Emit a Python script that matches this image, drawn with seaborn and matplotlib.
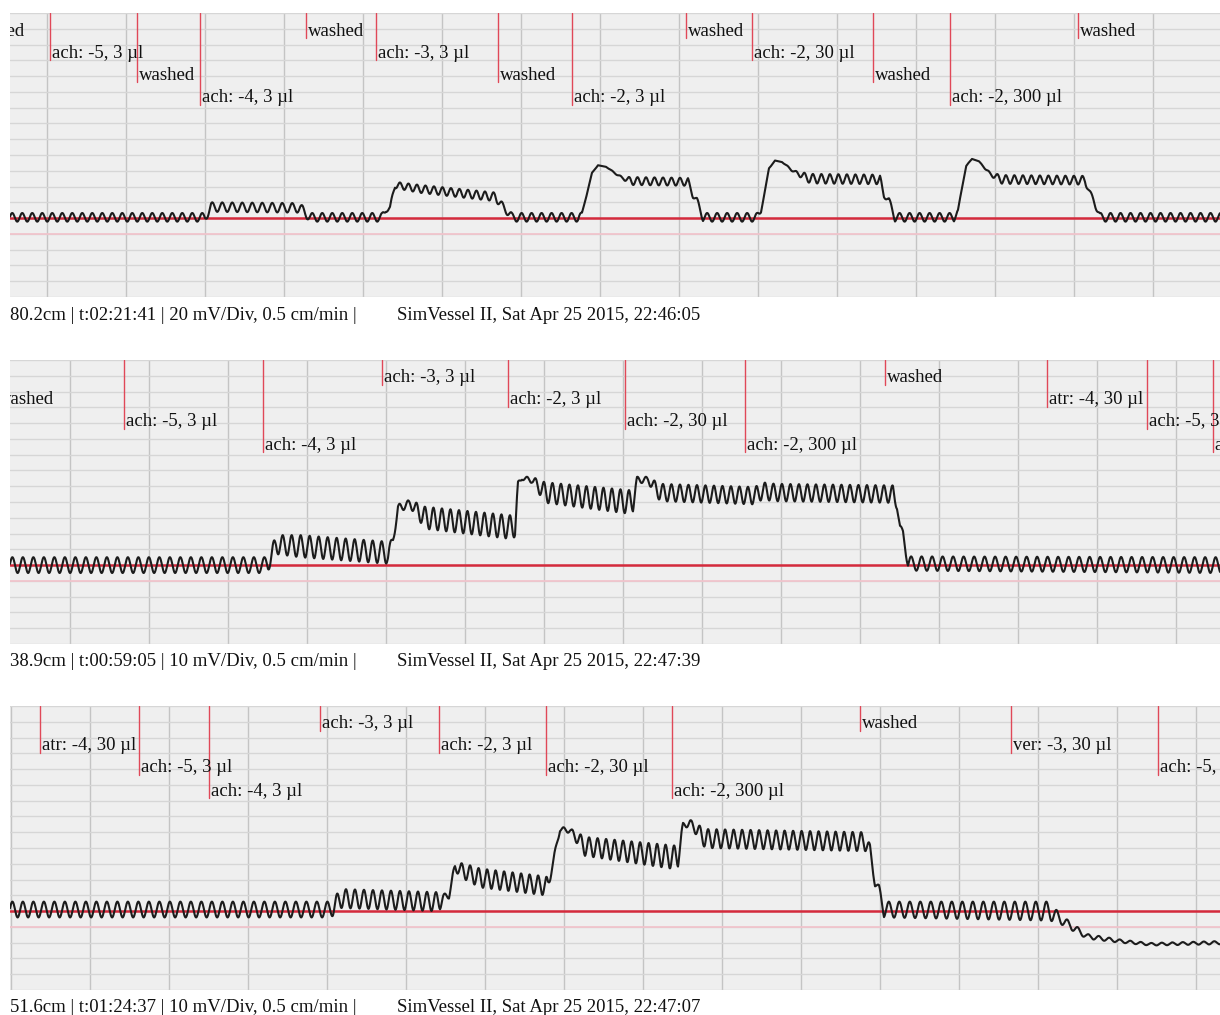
import numpy as np
import pandas as pd
import matplotlib
matplotlib.use('Agg')
import matplotlib.pyplot as plt
import seaborn as sns

W, H = 1220, 1015

# trace knots: x (screen px), level (mV above baseline),
# oscillation half-amplitude (mV), oscillation period (px)
p1_x = [10, 205, 211, 300, 310, 382, 386, 390, 395, 420, 495, 503, 512, 578, 582, 592,
        598, 606, 622, 632, 688, 693, 697, 703, 757, 761, 769, 775, 782, 795, 810, 880,
        884, 889, 895, 954, 958, 966, 972, 979, 990, 1002, 1085, 1089, 1093, 1100, 1220]
p1_mv = [1, 1, 14, 13, 1, 1, 10, 13, 42, 37, 27, 15, 1, 1, 6, 57,
         67, 65, 51, 47, 46, 28, 23, 1, 1, 8, 63, 73, 71, 58, 50, 49,
         28, 23, 1, 1, 10, 66, 75, 72, 56, 49, 48, 35, 25, 1, 1]
p1_amp = [5.5, 5.5, 6, 6, 5.5, 5.5, 2.5, 2.5, 4, 5, 5.5, 4, 5.5, 5.5, 1, 0.5,
          0, 0, 1.5, 5, 5, 2.5, 2.5, 5.5, 5.5, 1, 0.5, 0, 0, 2, 6, 6,
          2.5, 2.5, 5.5, 5.5, 1, 0.5, 0, 0, 2, 5.5, 5.5, 2.5, 2.5, 5.5, 5.5]
p1_per = [10, 10, 10, 10, 10, 10, 9, 9, 8.5, 8.5, 8.5, 9, 10, 10, 10, 10,
          10, 10, 8.5, 8.5, 8.5, 9, 9, 10, 10, 10, 10, 10, 10, 8.5, 8.5, 8.5,
          9, 9, 10, 10, 10, 10, 10, 10, 8.5, 8.5, 8.5, 9, 9, 10, 10]

p2_x = [10, 265, 268, 276, 300, 385, 388, 393, 398, 410, 425, 512, 515, 518, 522, 532,
        545, 630, 633, 637, 648, 660, 755, 762, 775, 893, 897, 900, 903, 908, 1220]
p2_mv = [0, 0, 1, 13, 12, 8, 6, 16, 36, 39, 30, 24, 24, 51, 55, 54,
         46, 40, 40, 54, 54, 46, 44, 47, 46, 45, 38, 24, 21, 1, 0]
p2_amp = [5, 5, 5, 6, 7, 7, 5, 3, 2.5, 2.5, 7, 7.5, 6, 2, 1, 2,
          6.5, 7.5, 6, 2, 2, 5.5, 5.5, 5.5, 5.5, 5.5, 2.5, 1.5, 1.5, 4.5, 5]
p2_per = [10.5, 10.5, 9, 9, 9, 9, 9, 9, 8.5, 8.5, 8.5, 8.5, 8.5, 8.5, 8.5, 8.5,
          8.5, 8.5, 8.5, 8.5, 8.5, 8.5, 8.5, 8.5, 8.5, 8.5, 9, 9, 9, 10.5, 10.5]

p3_x = [10, 330, 333, 340, 438, 440, 444, 449, 455, 465, 480, 546, 548, 552, 560, 570,
        585, 676, 678, 683, 690, 705, 866, 870, 875, 879, 884, 1050, 1060, 1087, 1120,
        1150, 1220]
p3_mv = [1, 1, 2, 8, 6, 6, 9, 10, 28, 25, 21, 16, 16, 28, 52, 51,
         41, 34, 34, 54, 56, 46, 44, 39, 17, 15, 1, 0, -5, -16, -19,
         -21, -20]
p3_amp = [5, 5, 5, 6, 6, 5, 2, 2, 3, 5, 6, 6, 5, 2, 1.5, 1.5,
          6, 7.5, 6, 2, 2, 6, 6, 3, 1.5, 1.5, 5, 6, 3, 1.5, 1,
          0.8, 1]
p3_per = [10.5, 10.5, 9, 9, 9, 8.5, 8.5, 8.5, 8.5, 8.5, 8.5, 8.5, 8.5, 8.5, 8.5, 8.5,
          8.5, 8.5, 8.5, 8.5, 8.5, 8.5, 8.5, 9, 9, 9, 10.5, 10.5, 10.5, 10.5, 10.5,
          10.5, 10.5]

# event markers: x (screen px), label row, label
m1_x = [-33, 50, 137, 200, 306, 376, 498, 572, 686, 752, 873, 950, 1078]
m1_row = [0, 1, 2, 3, 0, 1, 2, 3, 0, 1, 2, 3, 0]
m1_text = ['washed', 'ach: -5, 3 µl', 'washed', 'ach: -4, 3 µl', 'washed', 'ach: -3, 3 µl',
           'washed', 'ach: -2, 3 µl', 'washed', 'ach: -2, 30 µl', 'washed',
           'ach: -2, 300 µl', 'washed']

m2_x = [-4, 124, 263, 382, 508, 625, 745, 885, 1047, 1147, 1213]
m2_row = [1, 2, 3, 0, 1, 2, 3, 0, 1, 2, 3]
m2_text = ['washed', 'ach: -5, 3 µl', 'ach: -4, 3 µl', 'ach: -3, 3 µl', 'ach: -2, 3 µl',
           'ach: -2, 30 µl', 'ach: -2, 300 µl', 'washed', 'atr: -4, 30 µl',
           'ach: -5, 3 µl', 'ach: -4, 3 µl']

m3_x = [40, 139, 209, 320, 439, 546, 672, 860, 1011, 1158]
m3_row = [1, 2, 3, 0, 1, 2, 3, 0, 1, 2]
m3_text = ['atr: -4, 30 µl', 'ach: -5, 3 µl', 'ach: -4, 3 µl', 'ach: -3, 3 µl',
           'ach: -2, 3 µl', 'ach: -2, 30 µl', 'ach: -2, 300 µl', 'washed',
           'ver: -3, 30 µl', 'ach: -5, 3 µl']

mv_per_div = [20, 10, 10]
status_left = ['80.2cm | t:02:21:41 | 20 mV/Div, 0.5 cm/min |',
               '38.9cm | t:00:59:05 | 10 mV/Div, 0.5 cm/min |',
               '51.6cm | t:01:24:37 | 10 mV/Div, 0.5 cm/min |']
status_right = ['SimVessel II, Sat Apr 25 2015, 22:46:05',
                'SimVessel II, Sat Apr 25 2015, 22:47:39',
                'SimVessel II, Sat Apr 25 2015, 22:47:07']

# layout in screen pixels
panel_top = [13, 360, 706]
panel_h = 284
panel_left, panel_w = 10, 1210
grid_start = [47, 70, 11]
grid_step = 79
row_off = [18, 40, 62, 85]


def build_trace(kx, ky, ka, kp, step=0.25):
    xs = np.arange(kx[0], kx[-1] + step, step)
    lvl = np.interp(xs, kx, ky)
    amp = np.interp(xs, kx, ka)
    per = np.interp(xs, kx, kp)
    phase = np.cumsum(2 * np.pi * step / per)
    return pd.DataFrame({'x': xs, 'mV': lvl + amp * np.sin(phase)})


sns.set_theme(style='white')
plt.rcParams['font.family'] = ['Liberation Serif', 'DejaVu Serif']

fig = plt.figure(figsize=(W / 100, H / 100), dpi=100)

traces = [(p1_x, p1_mv, p1_amp, p1_per), (p2_x, p2_mv, p2_amp, p2_per), (p3_x, p3_mv, p3_amp, p3_per)]
markers = [(m1_x, m1_row, m1_text), (m2_x, m2_row, m2_text), (m3_x, m3_row, m3_text)]

for i in range(3):
    top = panel_top[i]
    ax = fig.add_axes([panel_left / W, 1 - (top + panel_h) / H, panel_w / W, panel_h / H])
    ax.set_facecolor('#efefef')
    d = mv_per_div[i]
    ax.set_xlim(panel_left, panel_left + panel_w)
    ax.set_ylim(-5 * d, 13 * d)
    ax.set_yticks(np.arange(-5, 14) * d)
    ax.set_xticks(np.arange(grid_start[i], panel_left + panel_w, grid_step))
    ax.grid(axis='y', color='#d6d6d6', linewidth=1)
    ax.grid(axis='x', color='#c4c4c4', linewidth=1)
    ax.tick_params(left=False, bottom=False, labelleft=False, labelbottom=False)
    for s in ax.spines.values():
        s.set_visible(False)
    ax.axhline(0, color='#d42a3c', linewidth=1.8, zorder=2)
    ax.axhline(-d, color='#f2c2ca', linewidth=1.2, zorder=2)

    df = build_trace(*traces[i])
    sns.lineplot(data=df, x='x', y='mV', ax=ax, color='#1c1c1c', linewidth=1.5,
                 estimator=None, sort=False, zorder=3)
    ax.set_xlabel('')
    ax.set_ylabel('')

    tr = ax.get_xaxis_transform()
    mx, mrow, mtext = markers[i]
    for x, r, t in zip(mx, mrow, mtext):
        y_txt = 1 - row_off[r] / panel_h
        y_end = 1 - (row_off[r] + 7) / panel_h
        ax.plot([x, x], [1, y_end], transform=tr, color='#e04858', linewidth=1,
                clip_on=True, zorder=4)
        ax.text(x + 2, y_txt, t, transform=tr, ha='left', va='center',
                fontsize=13.5, color='#111111', clip_on=True, zorder=5)

    y_status = 1 - (top + panel_h + 18) / H
    fig.text(10 / W, y_status, status_left[i], ha='left', va='center', fontsize=13.5, color='#111111')
    fig.text(397 / W, y_status, status_right[i], ha='left', va='center', fontsize=13.5, color='#111111')

fig.savefig('out.png', dpi=100, facecolor='white')
